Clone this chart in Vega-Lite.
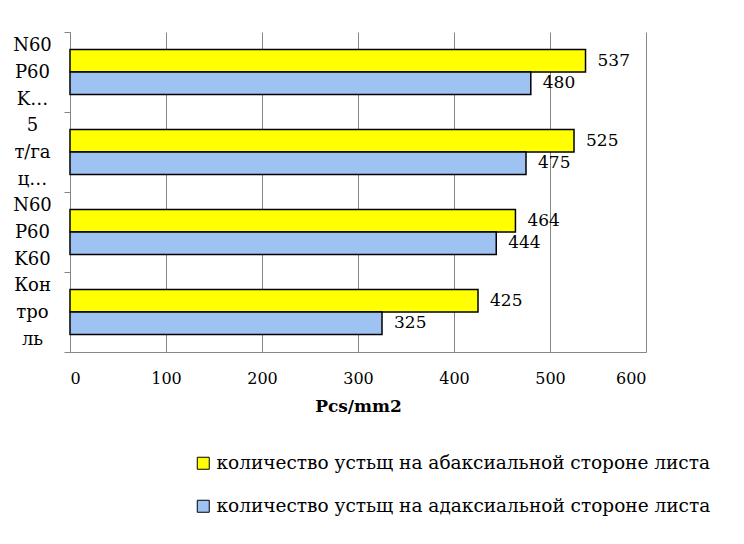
{
  "$schema": "https://vega.github.io/schema/vega-lite/v6.json",
  "autosize": "none",
  "padding": {"left": 70, "top": 32, "right": 98, "bottom": 192},
  "width": 576,
  "height": 320,
  "background": "white",
  "config": {
    "font": "DejaVu Serif",
    "view": {"stroke": null}
  },
  "data": {
    "values": [
      {"group": "N60 P60 K…", "side": "количество устьщ на абаксиальной стороне листа", "count": 537},
      {"group": "N60 P60 K…", "side": "количество устьщ на адаксиальной стороне листа", "count": 480},
      {"group": "5 т/га ц…", "side": "количество устьщ на абаксиальной стороне листа", "count": 525},
      {"group": "5 т/га ц…", "side": "количество устьщ на адаксиальной стороне листа", "count": 475},
      {"group": "N60 P60 K60", "side": "количество устьщ на абаксиальной стороне листа", "count": 464},
      {"group": "N60 P60 K60", "side": "количество устьщ на адаксиальной стороне листа", "count": 444},
      {"group": "Кон тро ль", "side": "количество устьщ на абаксиальной стороне листа", "count": 425},
      {"group": "Кон тро ль", "side": "количество устьщ на адаксиальной стороне листа", "count": 325}
    ]
  },
  "encoding": {
    "y": {
      "field": "group",
      "type": "nominal",
      "sort": ["N60 P60 K…", "5 т/га ц…", "N60 P60 K60", "Кон тро ль"],
      "scale": {"paddingInner": 0, "paddingOuter": 0},
      "axis": {
        "title": null,
        "tickBand": "extent",
        "domainColor": "#868686",
        "tickColor": "#868686",
        "tickSize": 6,
        "labelExpr": "split(datum.label, ' ')",
        "labelAlign": "center",
        "labelBaseline": "middle",
        "labelOffset": -27,
        "labelPadding": 32,
        "labelFontSize": 18,
        "labelLineHeight": 27,
        "labelColor": "#000000",
        "grid": false
      }
    },
    "yOffset": {
      "field": "side",
      "type": "nominal",
      "sort": ["количество устьщ на абаксиальной стороне листа", "количество устьщ на адаксиальной стороне листа"],
      "scale": {"paddingInner": 0, "paddingOuter": 0.78}
    },
    "x": {
      "field": "count",
      "type": "quantitative",
      "scale": {"domain": [0, 600], "nice": false},
      "axis": {
        "title": "Pcs/mm2",
        "titleFontSize": 17,
        "titleFontWeight": "bold",
        "titleColor": "#000000",
        "titlePadding": 12,
        "values": [0, 100, 200, 300, 400, 500, 600],
        "labelFontSize": 16,
        "labelColor": "#000000",
        "labelPadding": 18,
        "ticks": false,
        "domainColor": "#868686",
        "grid": true,
        "gridColor": "#868686",
        "gridWidth": 1
      }
    }
  },
  "layer": [
    {
      "mark": {"type": "bar", "stroke": "#000000", "strokeWidth": 1.5},
      "encoding": {
        "color": {
          "field": "side",
          "type": "nominal",
          "sort": ["количество устьщ на абаксиальной стороне листа", "количество устьщ на адаксиальной стороне листа"],
          "scale": {"range": ["#FFFF00", "#9EC2F2"]},
          "legend": {
            "title": null,
            "orient": "none",
            "legendX": 124,
            "legendY": 422,
            "direction": "vertical",
            "symbolType": "square",
            "symbolSize": 144,
            "symbolStrokeColor": "#000000",
            "symbolStrokeWidth": 1,
            "symbolOpacity": 1,
            "labelFontSize": 18.5,
            "labelColor": "#000000",
            "labelOffset": 4,
            "labelLimit": 600,
            "rowPadding": 24
          }
        }
      }
    },
    {
      "mark": {"type": "text", "align": "left", "baseline": "middle", "dx": 12, "fontSize": 17, "color": "#000000"},
      "encoding": {
        "text": {"field": "count", "type": "quantitative"}
      }
    }
  ]
}
